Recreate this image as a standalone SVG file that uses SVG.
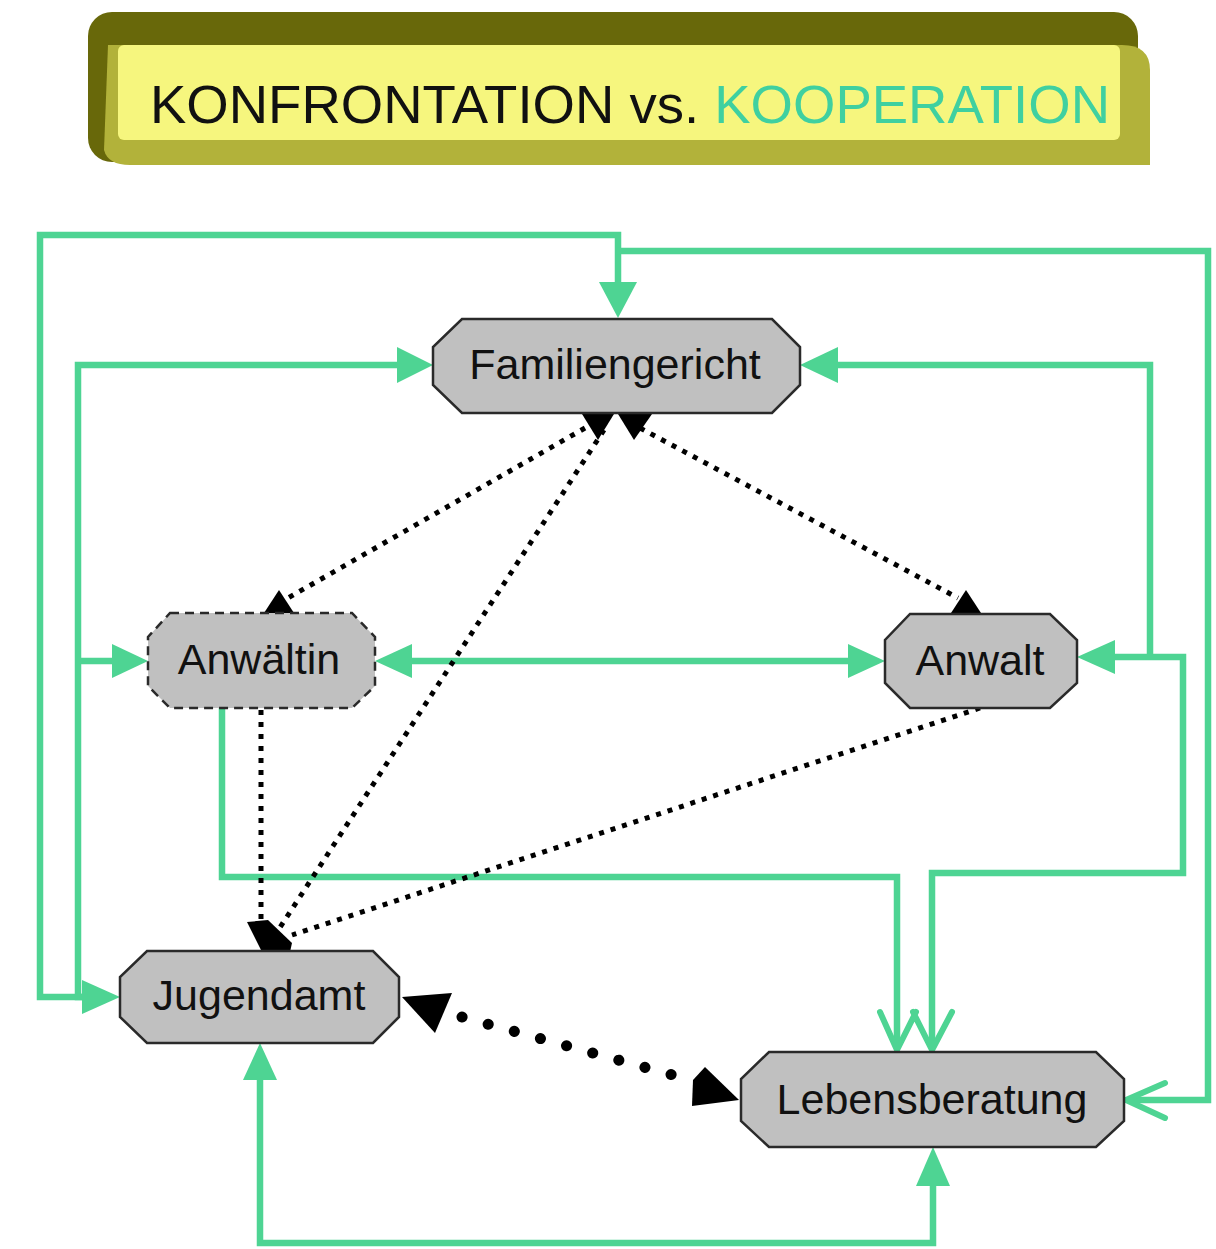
<svg xmlns="http://www.w3.org/2000/svg" width="1216" height="1249" viewBox="0 0 1216 1249">
<style>
.node{fill:#c0c0c0;stroke:#2a2a2a;stroke-width:2.5}
.dash{stroke-dasharray:9 6}
.lbl{font-family:"Liberation Sans",Arial,sans-serif;font-size:43px;fill:#111;text-anchor:middle}
.g{fill:none;stroke:#4ed493;stroke-width:6.5;stroke-linejoin:miter}
.ga{fill:#4ed493}
.gv{fill:none;stroke:#4ed493;stroke-width:6;stroke-linecap:round;stroke-linejoin:round}
.dot{fill:none;stroke:#000;stroke-width:5;stroke-dasharray:5 7}
.bigdot{fill:none;stroke:#000;stroke-width:11;stroke-linecap:round;stroke-dasharray:0.1 27}
.ba{fill:#000}
</style>
<rect width="1216" height="1249" fill="#fff"/>
<g id="banner">
<rect x="88" y="12" width="1050" height="150" rx="24" fill="#68680a"/>
<path d="M108,45 H1122 Q1150,45 1150,70 V165 H130 Q108,165 104,150 Z" fill="#b2b23a"/>
<rect x="118" y="45" width="1002" height="95" rx="6" fill="#f6f67e"/>
<text x="150" y="123" font-family="'Liberation Sans',Arial,sans-serif" font-size="53" textLength="960" lengthAdjust="spacingAndGlyphs"><tspan fill="#111">KONFRONTATION vs. </tspan><tspan fill="#3fd0a0">KOOPERATION</tspan></text>
</g>
<g id="connectors">
<path class="g" d="M82,997 H40 V235 H618 V284"/>
<path class="g" d="M399,365 H78 V997 H84 M78,661 H114"/>
<path class="g" d="M616,251 H1208 V1100 H1128"/>
<path class="g" d="M836,365 H1150 V657 M1113,657 H1183 V873 H932 V1048"/>
<path class="g" d="M222,708 V877 H897 V1048"/>
<path class="g" d="M410,661 H850"/>
<path class="g" d="M260,1078 V1243 H933 V1184"/>
<polygon class="ga" points="618,318 599,282 637,282"/>
<polygon class="ga" points="433,365 397,347 397,383"/>
<polygon class="ga" points="800,365 838,347 838,383"/>
<polygon class="ga" points="148,661 112,644 112,678"/>
<polygon class="ga" points="375,661 412,644 412,678"/>
<polygon class="ga" points="885,661 848,644 848,678"/>
<polygon class="ga" points="1077,657 1115,640 1115,674"/>
<polygon class="ga" points="120,997 82,980 82,1014"/>
<polygon class="ga" points="260,1043 243,1080 277,1080"/>
<polygon class="ga" points="933,1147 916,1186 950,1186"/>
<path class="gv" d="M880,1012 L897,1050 L916,1012 M913,1012 L932,1050 L952,1012"/>
<path class="gv" d="M1165,1083 L1126,1100 L1165,1118"/>
<path class="dot" d="M585,428 L288,598"/>
<path class="dot" d="M604,430 L277,932"/>
<path class="dot" d="M640,428 L958,598"/>
<path class="dot" d="M261,710 L261,925"/>
<path class="dot" d="M980,708 L292,935"/>
<path class="bigdot" d="M462,1017 L680,1077"/>
<polygon class="ba" points="582,414 614,414 598,440"/>
<polygon class="ba" points="618,414 652,414 634,440"/>
<polygon class="ba" points="279,590 264,613 294,613"/>
<polygon class="ba" points="966,590 951,613 981,613"/>
<polygon class="ba" points="247,922 268,920 292,943 290,952 262,952"/>
<polygon class="ba" points="402,997 452,993 435,1033"/>
<polygon class="ba" points="693,1080 705,1067 739,1100 692,1106"/>
</g>
<g id="familiengericht">
<polygon class="node" points="462,319 772,319 800,347 800,385 772,413 462,413 433,385 433,347"/>
<text class="lbl" x="615" y="379" font-size="44">Familiengericht</text>
</g>
<g id="anwaeltin">
<polygon class="node dash" points="170,613 352,613 375,637 375,686 352,708 170,708 148,686 148,637"/>
<text class="lbl" x="259" y="674">Anwältin</text>
</g>
<g id="anwalt">
<polygon class="node" points="910,614 1050,614 1077,640 1077,683 1050,708 910,708 885,683 885,640"/>
<text class="lbl" x="980" y="675">Anwalt</text>
</g>
<g id="jugendamt">
<polygon class="node" points="147,951 373,951 399,977 399,1017 373,1043 147,1043 120,1017 120,977"/>
<text class="lbl" x="259" y="1010">Jugendamt</text>
</g>
<g id="lebensberatung">
<polygon class="node" points="769,1052 1096,1052 1124,1079 1124,1121 1096,1147 769,1147 741,1121 741,1079"/>
<text class="lbl" x="932" y="1114">Lebensberatung</text>
</g>
</svg>
